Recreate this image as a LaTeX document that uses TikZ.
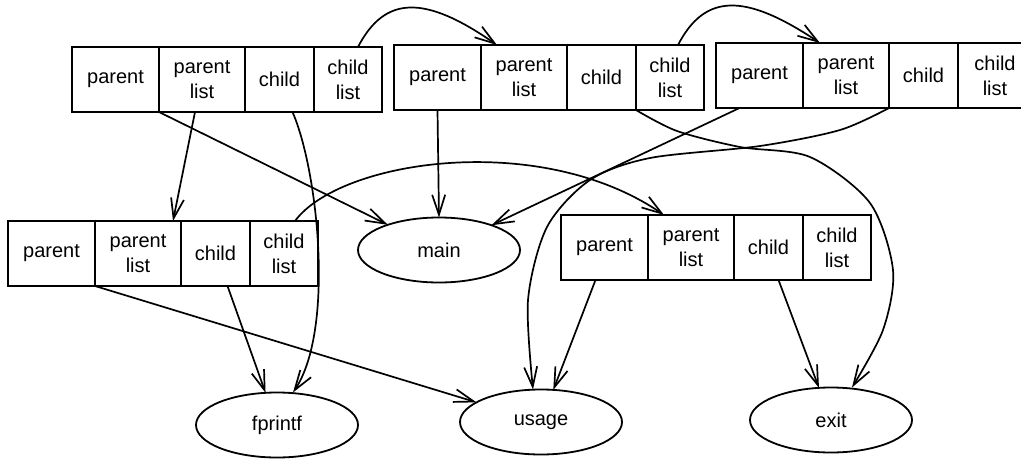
\documentclass[tikz,border=0pt]{standalone}
\usepackage{fontspec}
\setmainfont{Liberation Sans}
\usetikzlibrary{shapes.geometric,arrows.meta}
\newcommand\recfont{\fontsize{20}{25}\selectfont}
\newcommand\mkrecord[4][68pt]{%
  \node[cell, minimum width=87pt] (#2p) at (#3,#4) {parent};
  \node[cell, minimum width=86pt] (#2pl) at (#2p.north east) {parent\\list};
  \node[cell, minimum width=69pt] (#2c) at (#2pl.north east) {child};
  \node[cell, minimum width=#1] (#2cl) at (#2c.north east) {child\\list};
}
\tikzset{
  cell/.style={draw, line width=2pt, minimum height=65pt, inner sep=0pt, outer sep=0pt,
    align=center, font=\recfont, anchor=north west},
  fn/.style={draw, ellipse, line width=1.8pt, minimum width=162pt, minimum height=65pt,
    inner sep=0pt, outer sep=0pt, font=\recfont},
  arr/.style={line width=1.7pt, -{Straight Barb[length=20pt,width=13pt]}}
}
\begin{document}
\begin{tikzpicture}[x=1pt,y=-1pt]
\path[use as bounding box] (0,0) rectangle (1021,461);
\mkrecord{ra}{72}{47}
\mkrecord{rb}{394}{45}
\mkrecord[74pt]{rc}{716}{43}
\mkrecord{rd}{8}{221}
\mkrecord{re}{561}{215}
\node[fn] (main) at (439,250) {main};
\node[fn] (usage) at (541,422) {usage};
\node[fn] (fprintf) at (277,425) {fprintf};
\node[fn] (exit) at (831,420) {exit};
% record a
\draw[arr] (rap.south east) -- (main);
\draw[arr] ([xshift=-7pt]rapl.south) -- ([xshift=35pt]rdpl.north);
\draw[arr] ([xshift=13pt]rac.south) .. controls (318,170) and (335,330) .. ([xshift=16pt]fprintf.north);
\draw[arr] ([xshift=10pt]racl.north) .. controls (385,-5) and (425,-5) .. ([xshift=-27pt]rbpl.north);
% record b
\draw[arr] (rbp.south) -- (main.north);
\draw[arr] ([xshift=8pt]rbcl.north) .. controls (705,-7) and (745,-7) .. ([xshift=-26pt]rcpl.north);
\draw[arr] plot[smooth] coordinates {(rbc.south east) (677,131) (740,147) (810,157) (870,203) (893,270) (883,330) ([xshift=21pt]exit.north)};
% record c
\draw[arr] ([xshift=-20pt]rcp.south) -- (main);
\draw[arr] plot[smooth] coordinates {(rcc.south west) (840,130) (760,146) (650,158) (590,180) (547,227) (528,300) ([xshift=-8pt]usage.north)};
% record d
\draw[arr] (rdp.south east) -- (usage);
\draw[arr] ([xshift=12pt]rdc.south) -- (fprintf);
\draw[arr] ([xshift=11pt]rdcl.north) .. controls (340,160) and (540,130) .. ([xshift=-27pt]repl.north);
% record e
\draw[arr] ([xshift=-9pt]rep.south) -- (usage);
\draw[arr] ([xshift=10pt]rec.south) -- (exit);
\end{tikzpicture}
\end{document}
